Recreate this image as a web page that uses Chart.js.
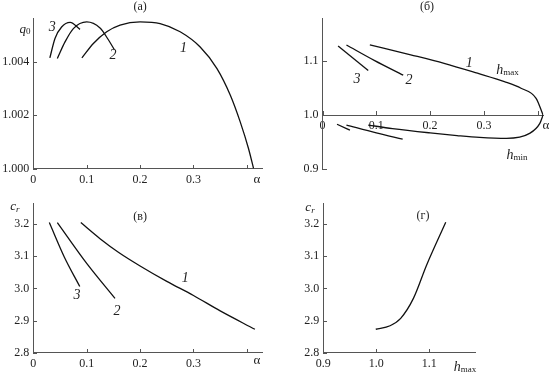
<!DOCTYPE html>
<html>
<head>
<meta charset="utf-8">
<script src="https://cdn.jsdelivr.net/npm/chart.js@4.4.0/dist/chart.umd.min.js"></script>
<style>
  html, body { margin: 0; padding: 0; background: #fff; }
  #wrap { position: relative; width: 551px; height: 374px; }
  canvas { position: absolute; }
</style>
</head>
<body>
<div id="wrap">
  <canvas id="panelA" width="276" height="185" style="left:0;top:0"></canvas>
  <canvas id="panelB" width="275" height="185" style="left:276px;top:0"></canvas>
  <canvas id="panelC" width="276" height="189" style="left:0;top:185px"></canvas>
  <canvas id="panelD" width="275" height="189" style="left:276px;top:185px"></canvas>
</div>
<script>
// ---- data ----

// (а) q0 against alpha, curves 1..3
const alphaA1 = [0.091, 0.1125, 0.1375, 0.1625, 0.2, 0.2375, 0.275, 0.3125, 0.344, 0.369, 0.3875, 0.403, 0.4125];
const q0A1 = [1.00415, 1.00469, 1.00513, 1.00538, 1.00550, 1.00544, 1.00513, 1.00456, 1.00375, 1.00275, 1.00175, 1.00075, 1.00000];
const alphaA2 = [0.045, 0.0594, 0.075, 0.1, 0.125, 0.14, 0.152];
const q0A2 = [1.00413, 1.00475, 1.00525, 1.00550, 1.00527, 1.00485, 1.00445];
const alphaA3 = [0.031, 0.0406, 0.053, 0.069, 0.0875];
const q0A3 = [1.00415, 1.00488, 1.00531, 1.00548, 1.00522];

// (б) h_max and h_min against alpha
const alphaMax1 = [0.088, 0.164, 0.226, 0.288, 0.338, 0.369, 0.397, 0.41];
const hMax1 = [1.130, 1.1117, 1.096, 1.0776, 1.062, 1.0497, 1.031, 1.0];
const alphaMin1 = [0.085, 0.13, 0.2, 0.25, 0.292, 0.342, 0.385, 0.404, 0.41];
const hMin1 = [0.9815, 0.975, 0.967, 0.962, 0.9585, 0.9567, 0.966, 0.9845, 1.0];
const alphaMax2 = [0.0445, 0.097, 0.15];
const hMax2 = [1.130, 1.101, 1.074];
const alphaMin2 = [0.0445, 0.1, 0.149];
const hMin2 = [0.9814, 0.967, 0.9554];
const alphaMax3 = [0.029, 0.085];
const hMax3 = [1.128, 1.0825];
const alphaMin3 = [0.027, 0.051];
const hMin3 = [0.983, 0.972];

// (в) c_r against alpha
const alphaC1 = [0.089, 0.125, 0.16, 0.2, 0.25, 0.3, 0.35, 0.415];
const crC1 = [3.205, 3.155, 3.112, 3.070, 3.022, 2.978, 2.930, 2.873];
const alphaC2 = [0.045, 0.1, 0.153];
const crC2 = [3.205, 3.078, 2.969];
const alphaC3 = [0.030, 0.058, 0.087];
const crC3 = [3.205, 3.098, 3.006];

// (г) c_r against h_max
const hMaxD = [0.999, 1.026, 1.046, 1.07, 1.095, 1.131];
const crD = [2.873, 2.884, 2.907, 2.969, 3.073, 3.206];

// ticks
const alphaTicks = [0, 0.1, 0.2, 0.3, 0.4];
const alphaTickLabels = ['0', '0.1', '0.2', '0.3', ''];
const q0Ticks = [1.000, 1.002, 1.004];
const q0TickLabels = ['1.000', '1.002', '1.004'];
const hTicks = [0.9, 1.0, 1.1];
const hTickLabels = ['0.9', '1.0', '1.1'];
const crTicks = [2.8, 2.9, 3.0, 3.1, 3.2];
const crTickLabels = ['2.8', '2.9', '3.0', '3.1', '3.2'];

// ---- drawing ----
const SERIF = '"Liberation Serif", "DejaVu Serif", serif';
const AXIS_COLOR = '#555';
const TEXT_COLOR = '#222';
const LINE_COLOR = '#111';
const TICK_LEN = 4;

function zip(xs, ys) {
    return xs.map((x, i) => ({ x: x, y: ys[i] }));
}

function curve(xs, ys) {
    return {
        data: zip(xs, ys),
        showLine: true,
        borderColor: LINE_COLOR,
        borderWidth: 1.3,
        pointRadius: 0,
        fill: false,
        cubicInterpolationMode: 'monotone'
    };
}

function axis(min, max, ticks, labels, extra) {
    return Object.assign({
        type: 'linear',
        min: min,
        max: max,
        grid: { display: true, drawOnChartArea: false, drawTicks: false },
        border: { display: true, color: AXIS_COLOR, width: 1 },
        ticks: {
            color: TEXT_COLOR,
            font: { family: SERIF, size: 12 },
            padding: 4,
            autoSkip: false,
            maxRotation: 0,
            callback: (v, i) => labels[i]
        },
        afterBuildTicks: s => { s.ticks = ticks.map(v => ({ value: v })); }
    }, extra || {});
}

// short tick marks pointing into the plot, as in the figure
function innerTicks(xAt) {
    return {
        id: 'innerTicks',
        afterDraw(chart) {
            const { ctx, chartArea, scales } = chart;
            const xs = scales.x, ys = scales.y;
            const base = xAt == null ? chartArea.bottom : ys.getPixelForValue(xAt);
            ctx.save();
            ctx.strokeStyle = AXIS_COLOR;
            ctx.lineWidth = 1;
            ctx.beginPath();
            xs.ticks.forEach(t => {
                const px = Math.round(xs.getPixelForValue(t.value)) + 0.5;
                ctx.moveTo(px, Math.round(base));
                ctx.lineTo(px, Math.round(base) - TICK_LEN);
            });
            ys.ticks.forEach(t => {
                const py = Math.round(ys.getPixelForValue(t.value)) + 0.5;
                ctx.moveTo(Math.round(chartArea.left), py);
                ctx.lineTo(Math.round(chartArea.left) + TICK_LEN, py);
            });
            ctx.stroke();
            ctx.restore();
        }
    };
}

// text placed at data coordinates; parts allow italics and subscripts
function textLabels(items) {
    return {
        id: 'textLabels',
        afterDraw(chart) {
            const { ctx, scales } = chart;
            ctx.save();
            ctx.fillStyle = TEXT_COLOR;
            ctx.textBaseline = 'middle';
            ctx.textAlign = 'left';
            items.forEach(item => {
                const fonts = item.parts.map(p =>
                    (p.it ? 'italic ' : '') + (p.size || 14) + 'px ' + SERIF);
                let width = 0;
                item.parts.forEach((p, i) => {
                    ctx.font = fonts[i];
                    width += ctx.measureText(p.t).width;
                });
                let px = scales.x.getPixelForValue(item.x) - width / 2;
                const py = scales.y.getPixelForValue(item.y);
                item.parts.forEach((p, i) => {
                    ctx.font = fonts[i];
                    ctx.fillText(p.t, px, py + (p.dy || 0));
                    px += ctx.measureText(p.t).width;
                });
            });
            ctx.restore();
        }
    };
}

function plain(t, size) { return { parts: [{ t: t, size: size }] }; }
function ital(t) { return { parts: [{ t: t, it: true }] }; }
function at(label, x, y) { return Object.assign({ x: x, y: y }, label); }

function makeChart(id, cfg) {
    return new Chart(document.getElementById(id), {
        type: 'scatter',
        data: { datasets: cfg.datasets },
        options: {
            responsive: false,
            animation: false,
            devicePixelRatio: 1,
            layout: { padding: cfg.padding },
            plugins: { legend: { display: false }, tooltip: { enabled: false } },
            scales: { x: cfg.x, y: cfg.y }
        },
        plugins: [innerTicks(cfg.xAt), textLabels(cfg.labels)]
    });
}

const hMaxLabel = { parts: [{ t: 'h', it: true, size: 14 }, { t: 'max', size: 9, dy: 3 }] };
const hMinLabel = { parts: [{ t: 'h', it: true, size: 14 }, { t: 'min', size: 9, dy: 3 }] };
const crLabel = { parts: [{ t: 'c', it: true, size: 13 }, { t: 'r', it: true, size: 9, dy: 3 }] };
const q0Label = { parts: [{ t: 'q', it: true, size: 13 }, { t: '0', size: 9, dy: 3 }] };

// (а)
makeChart('panelA', {
    datasets: [curve(alphaA1, q0A1), curve(alphaA2, q0A2), curve(alphaA3, q0A3)],
    padding: { top: 18, right: 14, left: 0, bottom: 0 },
    x: axis(0, 0.4283, alphaTicks, alphaTickLabels, { afterFit: s => { s.height = 16.5; } }),
    y: axis(1.000, 1.005647, q0Ticks, q0TickLabels, { afterFit: s => { s.width = 33.3; } }),
    labels: [
        at(plain('(а)', 12), 0.2, 1.00606),
        at(q0Label, -0.0156, 1.00523),
        at(ital('3'), 0.0356, 1.00531),
        at(ital('2'), 0.1494, 1.00426),
        at(ital('1'), 0.2813, 1.00451),
        at(plain('α', 13), 0.4189, 0.99957)
    ]
});

// (б)
makeChart('panelB', {
    datasets: [
        curve(alphaMax1, hMax1), curve(alphaMin1, hMin1),
        curve(alphaMax2, hMax2), curve(alphaMin2, hMin2),
        curve(alphaMax3, hMax3), curve(alphaMin3, hMin3)
    ],
    padding: { top: 18, right: 7.7, left: 0, bottom: 16 },
    xAt: 1.0,
    x: axis(0, 0.4104, alphaTicks, alphaTickLabels, { position: { y: 1.0 } }),
    y: axis(0.9, 1.18, hTicks, hTickLabels, { afterFit: s => { s.width = 46.5; } }),
    labels: [
        at(plain('(б)', 12), 0.1942, 1.2004),
        at(ital('3'), 0.0641, 1.0668),
        at(ital('2'), 0.1608, 1.0649),
        at(ital('1'), 0.2729, 1.0959),
        at(hMaxLabel, 0.344, 1.0835),
        at(hMinLabel, 0.3615, 0.9258),
        at(plain('α', 13), 0.4154, 0.9796)
    ]
});

// (в)
makeChart('panelC', {
    datasets: [curve(alphaC1, crC1), curve(alphaC2, crC2), curve(alphaC3, crC3)],
    padding: { top: 18, right: 14, left: 0, bottom: 0 },
    x: axis(0, 0.4283, alphaTicks, alphaTickLabels, { afterFit: s => { s.height = 21.3; } }),
    y: axis(2.8, 3.266, crTicks, crTickLabels, { afterFit: s => { s.width = 33.3; } }),
    labels: [
        at(plain('(в)', 12), 0.2, 3.2227),
        at(crLabel, -0.0343, 3.2539),
        at(ital('3'), 0.0819, 2.9798),
        at(ital('2'), 0.1569, 2.93),
        at(ital('1'), 0.2845, 3.0327),
        at(plain('α', 13), 0.4189, 2.7763)
    ]
});

// (г)
makeChart('panelD', {
    datasets: [curve(hMaxD, crD)],
    padding: { top: 18, right: 76, left: 0, bottom: 0 },
    x: axis(0.9, 1.1862, hTicks, hTickLabels, { afterFit: s => { s.height = 21.3; } }),
    y: axis(2.8, 3.266, crTicks, crTickLabels, { afterFit: s => { s.width = 47.3; } }),
    labels: [
        at(plain('(г)', 12), 1.0881, 3.2259),
        at(crLabel, 0.8749, 3.2508),
        at(hMaxLabel, 1.1674, 2.7555)
    ]
});
</script>
</body>
</html>
